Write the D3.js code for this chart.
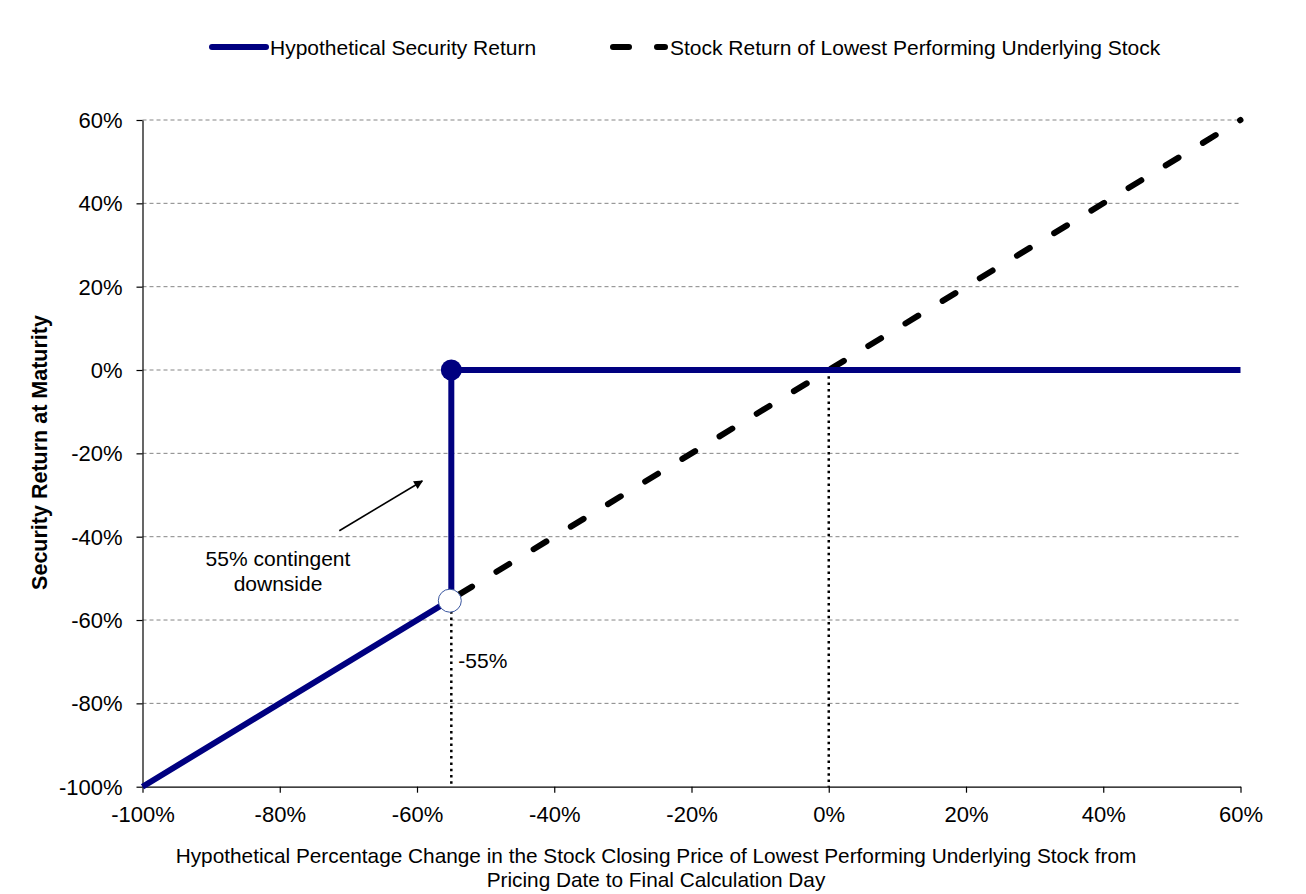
<!DOCTYPE html>
<html>
<head>
<meta charset="utf-8">
<script src="https://cdn.jsdelivr.net/npm/d3@7"></script>
<style>
  html, body { margin: 0; padding: 0; background: #fff; }
  svg { display: block; font-family: "Liberation Sans", Arial, sans-serif; }
</style>
</head>
<body>
<svg id="chart" width="1306" height="894"></svg>
<script>
// ---- data ----
const xTicks = [-100, -80, -60, -40, -20, 0, 20, 40, 60];
const yTicks = [-100, -80, -60, -40, -20, 0, 20, 40, 60];
const securityX = [-100, -55, -55, 60];
const securityY = [-100, -55, 0, 0];
const stockX = [-55, 60];
const stockY = [-55, 60];
const barrierLevel = -55;
const legendLabels = ["Hypothetical Security Return", "Stock Return of Lowest Performing Underlying Stock"];
const annotationLines = ["55% contingent", "downside"];
const barrierLabel = "-55%";
const xTitleLines = ["Hypothetical Percentage Change in the Stock Closing Price of Lowest Performing Underlying Stock from", "Pricing Date to Final Calculation Day"];
const yTitle = "Security Return at Maturity";

const navy = "#000080";
const svg = d3.select("#chart");
const x = d3.scaleLinear().domain([-100, 60]).range([142.5, 1240.5]);
const y = d3.scaleLinear().domain([-100, 60]).range([786.7, 120]);
const fmt = d => d + "%";

// gridlines
svg.append("g").selectAll("line")
  .data(yTicks.filter(d => d !== -100))
  .join("line")
  .attr("x1", x(-100)).attr("x2", x(60))
  .attr("y1", d => y(d)).attr("y2", d => y(d))
  .attr("stroke", "#858585").attr("stroke-width", 1)
  .attr("stroke-dasharray", "4,3");

// axes
const xAxis = svg.append("g")
  .attr("transform", `translate(0,${y(-100)})`)
  .call(d3.axisBottom(x).tickValues(xTicks).tickFormat(fmt).tickSize(6).tickSizeOuter(0).tickPadding(14));
const yAxis = svg.append("g")
  .attr("transform", `translate(${x(-100)},0)`)
  .call(d3.axisLeft(y).tickValues(yTicks).tickFormat(fmt).tickSize(6).tickSizeOuter(0).tickPadding(14));
[xAxis, yAxis].forEach(a => {
  a.attr("font-size", 22).attr("font-family", '"Liberation Sans", Arial, sans-serif');
  a.selectAll("path.domain").attr("stroke", "#000").attr("stroke-width", 1.2);
  a.selectAll(".tick line").attr("stroke", "#000").attr("stroke-width", 1.2);
  a.selectAll(".tick text").attr("font-size", 22).attr("fill", "#000");
});
xAxis.selectAll(".tick text").attr("dy", "0.68em");
yAxis.selectAll(".tick text").attr("dy", "0.34em");

// dotted reference lines
svg.append("line")
  .attr("x1", x(barrierLevel)).attr("x2", x(barrierLevel))
  .attr("y1", y(barrierLevel) + 12).attr("y2", y(-100))
  .attr("stroke", "#000").attr("stroke-width", 2.5).attr("stroke-dasharray", "2.5,3.8");
svg.append("line")
  .attr("x1", x(0)).attr("x2", x(0))
  .attr("y1", y(0)).attr("y2", y(-100))
  .attr("stroke", "#000").attr("stroke-width", 2.5).attr("stroke-dasharray", "2.5,3.8");

// stock return dashed line
const line = d3.line().x(d => x(d[0])).y(d => y(d[1]));
const stockPath = svg.append("path")
  .datum(stockX.map((v, i) => [v, stockY[i]]))
  .attr("d", line)
  .attr("fill", "none").attr("stroke", "#000").attr("stroke-width", 6)
  .attr("stroke-linecap", "round");
{
  const dash = 15, period = 43.5;
  const L = stockPath.node().getTotalLength();
  const s = L - 36.5; // a dash centred here, so the next one only shows as a dot at the end
  let off = ((dash / 2 - s) % period + period) % period;
  stockPath.attr("stroke-dasharray", `${dash},${period - dash}`).attr("stroke-dashoffset", off);
}

// security return line
svg.append("path")
  .datum(securityX.map((v, i) => [v, securityY[i]]))
  .attr("d", line)
  .attr("fill", "none").attr("stroke", navy).attr("stroke-width", 6)
  .attr("stroke-linejoin", "miter");

// markers
svg.append("circle")
  .attr("cx", x(barrierLevel)).attr("cy", y(0)).attr("r", 10.5)
  .attr("fill", navy);
svg.append("circle")
  .attr("cx", x(barrierLevel) - 1.5).attr("cy", y(barrierLevel) + 1.5).attr("r", 11.5)
  .attr("fill", "#fff").attr("stroke", "#3b57a0").attr("stroke-width", 1);

// annotation arrow
svg.append("defs").append("marker")
  .attr("id", "arrowhead").attr("viewBox", "0 0 10 10")
  .attr("refX", 9).attr("refY", 5)
  .attr("markerWidth", 12).attr("markerHeight", 9)
  .attr("markerUnits", "userSpaceOnUse")
  .attr("orient", "auto")
  .append("path").attr("d", "M0,0 L10,5 L0,10 z").attr("fill", "#000");
svg.append("line")
  .attr("x1", 339.3).attr("y1", 530.7)
  .attr("x2", 422.3).attr("y2", 481)
  .attr("stroke", "#000").attr("stroke-width", 1.6)
  .attr("marker-end", "url(#arrowhead)");

// annotation text
svg.append("text").attr("x", 278).attr("y", 566).attr("text-anchor", "middle")
  .attr("font-size", 21).text(annotationLines[0]);
svg.append("text").attr("x", 278).attr("y", 591).attr("text-anchor", "middle")
  .attr("font-size", 21).text(annotationLines[1]);
svg.append("text").attr("x", x(barrierLevel) + 7).attr("y", 668)
  .attr("font-size", 21).text(barrierLabel);

// axis titles
svg.append("text").attr("x", 656).attr("y", 863).attr("text-anchor", "middle")
  .attr("font-size", 20.8).text(xTitleLines[0]);
svg.append("text").attr("x", 656).attr("y", 887).attr("text-anchor", "middle")
  .attr("font-size", 20.8).text(xTitleLines[1]);
svg.append("text")
  .attr("transform", "translate(47,452.5) rotate(-90)")
  .attr("text-anchor", "middle").attr("font-size", 21.5).attr("font-weight", "bold")
  .text(yTitle);

// legend
svg.append("line").attr("x1", 212).attr("x2", 266).attr("y1", 47).attr("y2", 47)
  .attr("stroke", navy).attr("stroke-width", 6).attr("stroke-linecap", "round");
svg.append("text").attr("x", 270).attr("y", 54.5).attr("font-size", 21).text(legendLabels[0]);
svg.append("line").attr("x1", 613).attr("x2", 665).attr("y1", 47).attr("y2", 47)
  .attr("stroke", "#000").attr("stroke-width", 6).attr("stroke-linecap", "round")
  .attr("stroke-dasharray", "16,28");
svg.append("text").attr("x", 670).attr("y", 54.5).attr("font-size", 21).text(legendLabels[1]);
</script>
</body>
</html>
